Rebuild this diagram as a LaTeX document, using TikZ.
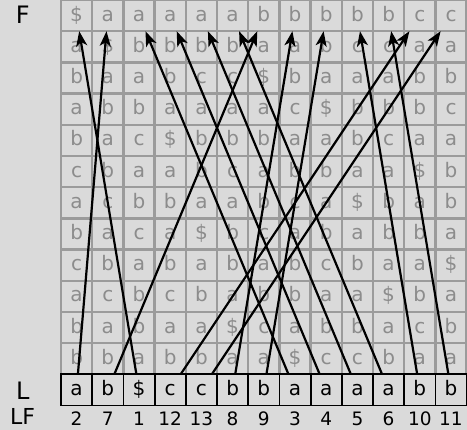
\documentclass[tikz,border=0pt]{standalone}
\usepackage{fontspec}
\setmainfont{DejaVu Sans}
\usetikzlibrary{arrows.meta}
\definecolor{bgc}{RGB}{218,218,218}
\definecolor{gridc}{RGB}{155,155,155}
\definecolor{txtc}{RGB}{140,140,140}
\begin{document}
\begin{tikzpicture}[x=1pt,y=-1pt,
  cellbox/.style={draw=gridc, line width=2.4pt, fill=bgc, minimum width=31.2pt, minimum height=31.2pt, inner sep=0pt, outer sep=0pt, text=txtc, font=\fontsize{20}{22}\selectfont, text height=14pt, text depth=3pt},
  lbox/.style={cellbox, draw=black, line width=1.8pt, text=black},
  lab/.style={font=\fontsize{24}{27}\selectfont, text=black, inner sep=0pt},
  lfnum/.style={font=\fontsize{18.5}{21}\selectfont, anchor=base, inner sep=0pt, text=black},
  lfarrow/.style={line width=2.2pt, -{Stealth[length=15pt,width=11pt,inset=4pt]}}]
\fill[bgc] (0,0) rectangle (467,430);
\useasboundingbox (0,0) rectangle (467,430);
\foreach \col/\chars in {
  1/{\$,a,b,a,b,c,a,b,c,a,b,b},
  2/{a,\$,a,b,a,b,c,a,b,c,a,b},
  3/{a,b,a,b,c,a,b,c,a,b,b,a},
  4/{a,b,b,a,\$,a,b,a,b,c,a,b},
  5/{a,b,c,a,b,b,a,\$,a,b,a,b},
  6/{a,b,c,a,b,c,a,b,b,a,\$,a},
  7/{b,a,\$,a,b,a,b,c,a,b,c,a},
  8/{b,a,b,c,a,b,c,a,b,b,a,\$},
  9/{b,b,a,\$,a,b,a,b,c,a,b,c},
  10/{b,c,a,b,b,a,\$,a,b,a,b,c},
  11/{b,c,a,b,c,a,b,b,a,\$,a,b},
  12/{c,a,b,b,a,\$,a,b,a,b,c,a},
  13/{c,a,b,c,a,b,b,a,\$,a,b,a}}{
  \foreach \ch [count=\r] in \chars {
    \node[cellbox] (c-\col-\r) at ({61+31.2*(\col-0.5)},{31.2*(\r-0.5)}) {\ch};
  }
}
\foreach \col/\ch/\lf in {1/a/2,2/b/7,3/\$/1,4/c/12,5/c/13,6/b/8,7/b/9,8/a/3,9/a/4,10/a/5,11/a/6,12/b/10,13/b/11}{
  \node[lbox] (L-\col) at ({61+31.2*(\col-0.5)},390) {\ch};
  \node[lfnum] (n-\col) at ({61+31.2*(\col-0.5)},425.3) {\lf};
}
\foreach \col/\lf in {1/2,2/7,3/1,4/12,5/13,6/8,7/9,8/3,9/4,10/5,11/6,12/10,13/11}{
  \draw[lfarrow] (L-\col) -- (c-\lf-1);
}
\node[lab] (lF) at (22.7,15.2) {F};
\node[lab] (lL) at (22.7,391) {L};
\node[lab, font=\fontsize{22}{25}\selectfont, anchor=base] (lLF) at (22.7,424.5) {LF};
\end{tikzpicture}
\end{document}
